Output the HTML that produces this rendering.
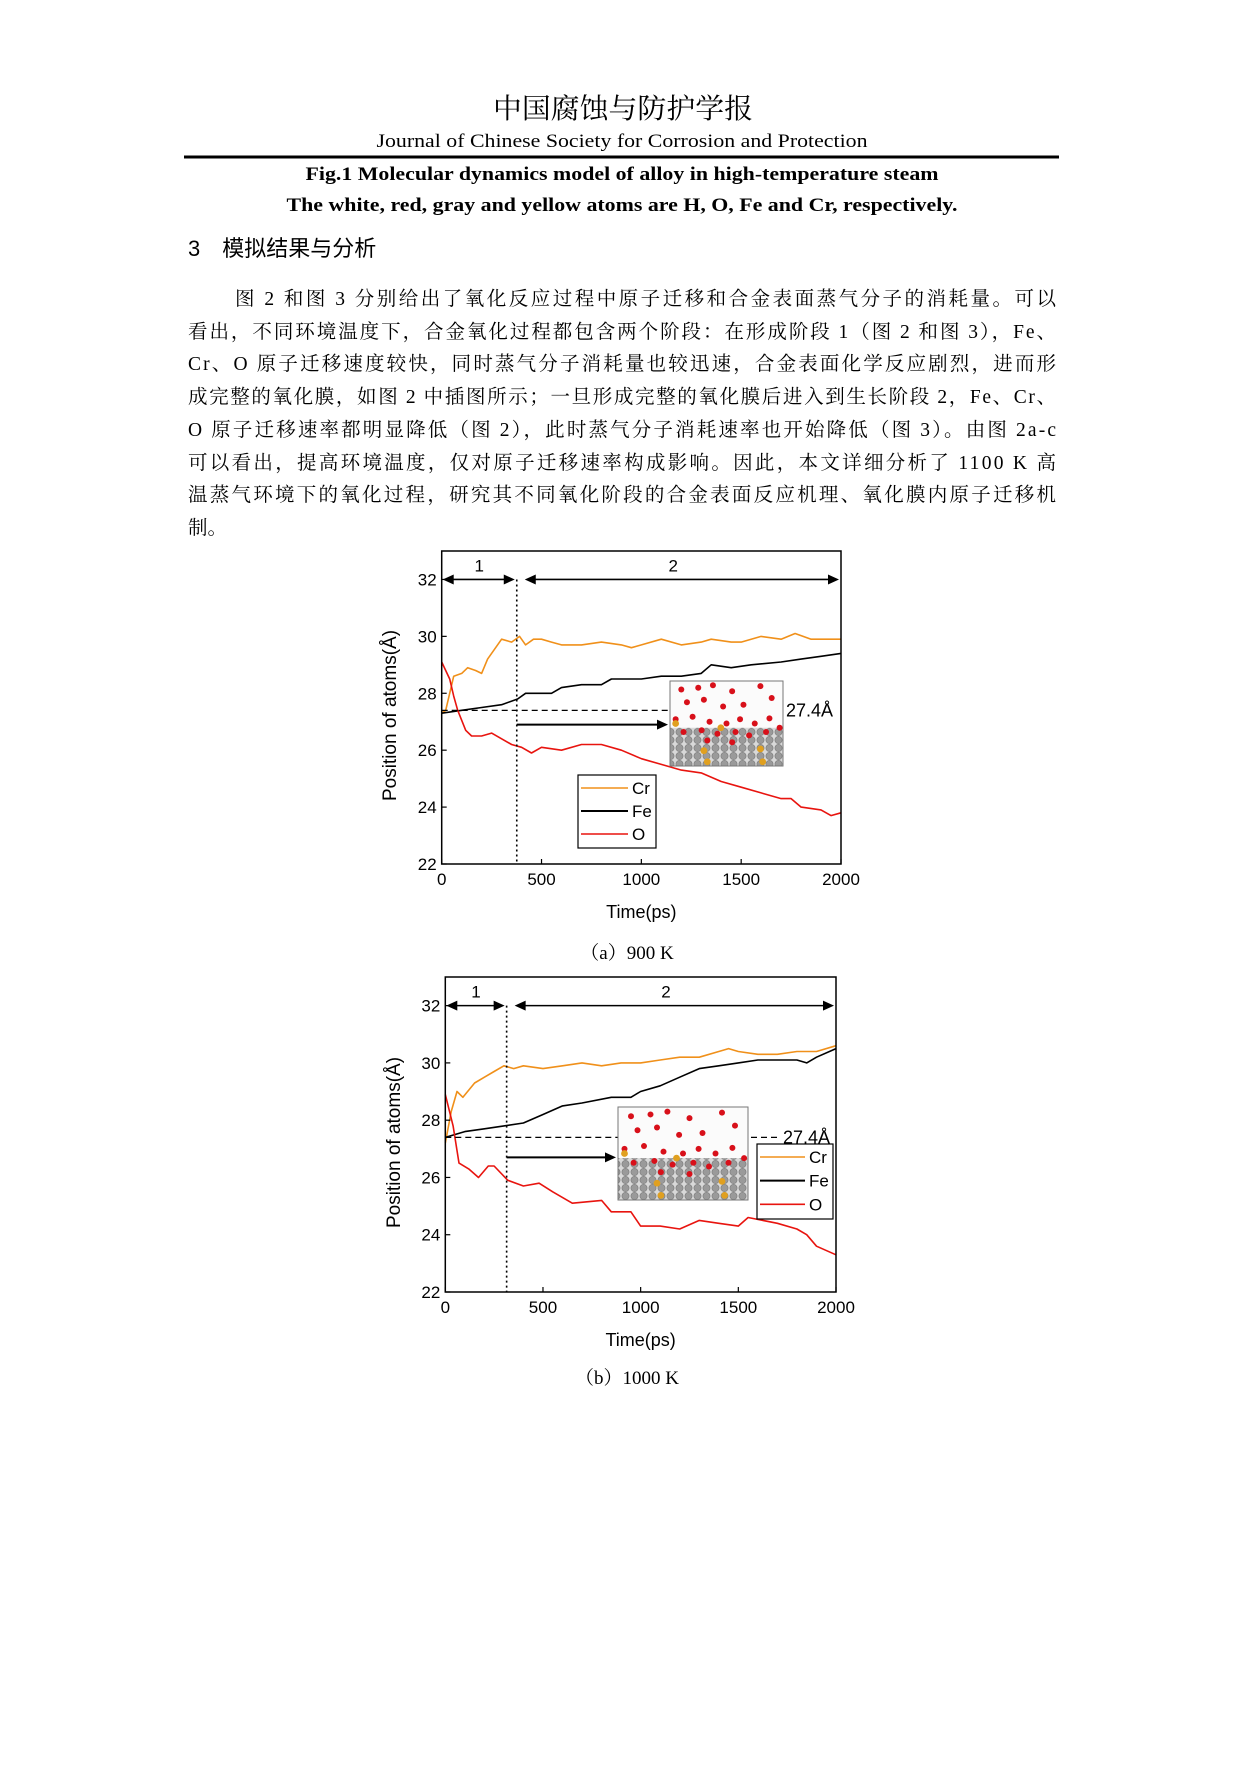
<!DOCTYPE html>
<html><head><meta charset="utf-8"><style>
html,body{margin:0;padding:0;background:#fff;}
svg{display:block;}
.sr{font-family:"Liberation Serif","Noto Serif CJK SC",serif;}
.ss{font-family:"Liberation Sans","Noto Sans CJK SC",sans-serif;}
</style></head><body>
<svg id="page" width="1241" height="1766" viewBox="0 0 1241 1766" xmlns="http://www.w3.org/2000/svg">
<rect width="1241" height="1766" fill="#fff"/>
<g>
<text class="sr" x="623" y="118" font-size="28" text-anchor="middle" textLength="260" lengthAdjust="spacingAndGlyphs">中国腐蚀与防护学报</text>
<text class="sr" x="622" y="147" font-size="19" text-anchor="middle" textLength="491" lengthAdjust="spacingAndGlyphs">Journal of Chinese Society for Corrosion and Protection</text>
<line x1="184" y1="157" x2="1059" y2="157" stroke="#000" stroke-width="3"/>
</g>
<text class="sr" x="622" y="180" font-size="19" font-weight="bold" text-anchor="middle" textLength="633" lengthAdjust="spacingAndGlyphs">Fig.1 Molecular dynamics model of alloy in high-temperature steam</text>
<text class="sr" x="622" y="211" font-size="19" font-weight="bold" text-anchor="middle" textLength="671" lengthAdjust="spacingAndGlyphs">The white, red, gray and yellow atoms are H, O, Fe and Cr, respectively.</text>
<text class="ss" x="188" y="256" font-size="22">3<tspan dx="22">模拟结果与分析</tspan></text>
<g class="sr" font-size="19.5">
<text x="235" y="305" textLength="821" lengthAdjust="spacing">图 2 和图 3 分别给出了氧化反应过程中原子迁移和合金表面蒸气分子的消耗量。可以</text>
<text x="188" y="338" textLength="868" lengthAdjust="spacing">看出，不同环境温度下，合金氧化过程都包含两个阶段：在形成阶段 1（图 2 和图 3），Fe、</text>
<text x="188" y="370" textLength="868" lengthAdjust="spacing">Cr、O 原子迁移速度较快，同时蒸气分子消耗量也较迅速，合金表面化学反应剧烈，进而形</text>
<text x="188" y="403" textLength="868" lengthAdjust="spacing">成完整的氧化膜，如图 2 中插图所示；一旦形成完整的氧化膜后进入到生长阶段 2，Fe、Cr、</text>
<text x="188" y="436" textLength="868" lengthAdjust="spacing">O 原子迁移速率都明显降低（图 2），此时蒸气分子消耗速率也开始降低（图 3）。由图 2a-c</text>
<text x="188" y="469" textLength="868" lengthAdjust="spacing">可以看出，提高环境温度，仅对原子迁移速率构成影响。因此，本文详细分析了 1100 K 高</text>
<text x="188" y="501" textLength="868" lengthAdjust="spacing">温蒸气环境下的氧化过程，研究其不同氧化阶段的合金表面反应机理、氧化膜内原子迁移机</text>
<text x="188" y="534">制。</text>
</g>
<defs>
<pattern id="atoms" x="0" y="0" width="9" height="8" patternUnits="userSpaceOnUse">
<rect width="9" height="8" fill="#d8d8d8"/>
<circle cx="4.5" cy="4" r="3.6" fill="#9a9a9a" stroke="#777" stroke-width="0.6"/>
</pattern>
</defs>
<g id="chartA"></g>
<g id="chartB"></g>
<text class="sr" x="627" y="959" font-size="19" text-anchor="middle">（a）900 K</text>
<text class="sr" x="627" y="1384" font-size="19" text-anchor="middle">（b）1000 K</text>
</svg>
<script>
// ---- Chart A data (900 K) ----
const aCrT = [0,20,40,60,100,130,170,200,230,260,300,350,390,420,460,500,550,600,700,800,900,950,1000,1100,1200,1300,1350,1450,1500,1600,1700,1770,1850,1950,2000];
const aCrV = [27.3,27.4,28.0,28.6,28.7,28.9,28.8,28.7,29.2,29.5,29.9,29.8,30.0,29.7,29.9,29.9,29.8,29.7,29.7,29.8,29.7,29.6,29.7,29.9,29.7,29.8,29.9,29.8,29.8,30.0,29.9,30.1,29.9,29.9,29.9];
const aFeT = [0,100,200,300,380,420,500,550,600,700,800,850,1000,1100,1200,1300,1350,1450,1550,1700,1800,1900,2000];
const aFeV = [27.3,27.4,27.5,27.6,27.8,28.0,28.0,28.0,28.2,28.3,28.3,28.5,28.5,28.6,28.6,28.7,29.0,28.9,29.0,29.1,29.2,29.3,29.4];
const aOT = [0,40,60,80,120,150,200,250,300,350,400,450,500,600,700,800,900,1000,1100,1200,1300,1400,1500,1600,1700,1750,1800,1900,1950,2000];
const aOV = [29.1,28.5,27.9,27.4,26.7,26.5,26.5,26.6,26.4,26.2,26.1,25.9,26.1,26.0,26.2,26.2,26.0,25.7,25.5,25.3,25.2,24.9,24.7,24.5,24.3,24.3,24.0,23.9,23.7,23.8];
// ---- Chart B data (1000 K) ----
const bCrT = [0,30,60,90,150,200,250,300,350,400,500,600,700,800,900,1000,1100,1200,1300,1400,1450,1500,1600,1700,1800,1900,2000];
const bCrV = [27.2,28.3,29.0,28.8,29.3,29.5,29.7,29.9,29.8,29.9,29.8,29.9,30.0,29.9,30.0,30.0,30.1,30.2,30.2,30.4,30.5,30.4,30.3,30.3,30.4,30.4,30.6];
const bFeT = [0,100,200,300,400,500,600,700,850,950,1000,1100,1200,1300,1400,1500,1600,1700,1800,1850,1900,2000];
const bFeV = [27.4,27.6,27.7,27.8,27.9,28.2,28.5,28.6,28.8,28.8,29.0,29.2,29.5,29.8,29.9,30.0,30.1,30.1,30.1,30.0,30.2,30.5];
const bOT = [0,40,70,120,170,220,250,320,400,480,550,650,800,850,950,1000,1100,1200,1300,1400,1500,1550,1700,1800,1850,1900,2000];
const bOV = [28.9,27.8,26.5,26.3,26.0,26.4,26.4,25.9,25.7,25.8,25.5,25.1,25.2,24.8,24.8,24.3,24.3,24.2,24.5,24.4,24.3,24.6,24.4,24.2,24.0,23.6,23.3];
const xTicks = [0,500,1000,1500,2000];
const yTicks = [22,24,26,28,30,32];
const seriesNames = ["Cr","Fe","O"];
const seriesColors = ["#f0901a","#000","#e8140f"];

const NS="http://www.w3.org/2000/svg";
function mk(p,tag,at,txt){const e=document.createElementNS(NS,tag);for(const k in at)e.setAttribute(k,at[k]);if(txt!==undefined)e.textContent=txt;p.appendChild(e);return e;}

function drawChart(g,cfg){
  const L=cfg.left,R=cfg.right,T=cfg.top,B=cfg.bottom;
  const xs=v=>L+(v-0)/2000*(R-L);
  const ys=v=>B-(v-22)/11*(B-T);
  const ff='"Liberation Sans",sans-serif';
  const data=cfg.series;
  data.forEach((s,i)=>{
    const d=s.t.map((t,j)=>(j?'L':'M')+xs(t).toFixed(1)+','+ys(s.v[j]).toFixed(1)).join('');
    const p=mk(g,'path',{d:d,fill:'none',stroke:seriesColors[i],'stroke-width':1.6,'stroke-linejoin':'round'});
    
    
  });
  const dl=mk(g,'line',{x1:L,x2:cfg.insetX,y1:ys(27.4),y2:ys(27.4),stroke:'#000','stroke-width':1.3,'stroke-dasharray':'6,4'});
  
  
  if(cfg.dashAfter){
    const d2=mk(g,'line',{x1:cfg.insetX+cfg.insetW+3,x2:cfg.labX-2,y1:ys(27.4),y2:ys(27.4),stroke:'#000','stroke-width':1.3,'stroke-dasharray':'6,4'});
    
    
  }
  const dv=mk(g,'line',{x1:xs(cfg.stage),x2:xs(cfg.stage),y1:ys(32),y2:B,stroke:'#000','stroke-width':1.6,'stroke-dasharray':'2,3'});
  
  
  const ay=ys(32);
  function arrow(x1,x2,name){
    const a=mk(g,'g',{});
    
    
    mk(a,'line',{x1:x1+6,x2:x2-6,y1:ay,y2:ay,stroke:'#000','stroke-width':1.6});
    mk(a,'path',{d:`M${x1},${ay}l11,-5v10z M${x2},${ay}l-11,-5v10z`,fill:'#000'});
  }
  arrow(L+1,xs(cfg.stage)-2,'stage-1-arrow');
  arrow(xs(cfg.stage)+8,R-2,'stage-2-arrow');
  const s1=mk(g,'text',{x:xs(cfg.stage/2),y:ay-8,'font-size':17,'font-family':ff,'text-anchor':'middle'},'1');
  
  
  const s2=mk(g,'text',{x:xs(cfg.stage2x),y:ay-8,'font-size':17,'font-family':ff,'text-anchor':'middle'},'2');
  
  
  const ig=mk(g,'g',{});
  
  
  const iw=cfg.insetW,ih=cfg.insetH,ix=cfg.insetX,iy=cfg.insetY;
  mk(ig,'rect',{x:ix,y:iy,width:iw,height:ih,fill:'#fbfbfb'});
  mk(ig,'rect',{x:ix,y:iy+ih*0.55,width:iw,height:ih*0.45,fill:'url(#atoms)'});
  const reds=[[.1,.1],[.25,.08],[.38,.05],[.55,.12],[.8,.06],[.15,.25],[.3,.22],[.47,.3],[.65,.28],[.9,.2],[.05,.45],[.2,.42],[.35,.48],[.5,.5],[.62,.45],[.75,.5],[.88,.44],[.12,.6],[.28,.58],[.42,.62],[.58,.6],[.7,.64],[.85,.6],[.97,.55],[.33,.7],[.55,.72]];
  reds.forEach(r=>mk(ig,'circle',{cx:ix+r[0]*iw,cy:iy+r[1]*ih,r:3,fill:'#d8101a'}));
  [[.05,.5],[.45,.55],[.3,.82],[.8,.8],[.33,.95],[.82,.95]].forEach(r=>mk(ig,'circle',{cx:ix+r[0]*iw,cy:iy+r[1]*ih,r:3.4,fill:'#e0a020'}));
  mk(ig,'rect',{x:ix,y:iy,width:iw,height:ih,fill:'none',stroke:'#777','stroke-width':1});
  const sa=mk(g,'g',{});
  
  
  mk(sa,'line',{x1:xs(cfg.stage),x2:ix-10,y1:ys(cfg.arrowY),y2:ys(cfg.arrowY),stroke:'#000','stroke-width':2});
  mk(sa,'path',{d:`M${ix-2},${ys(cfg.arrowY)}l-11,-5v10z`,fill:'#000'});
  const lab=mk(g,'text',{x:cfg.labX,y:ys(27.4)+6,'font-size':18,'font-family':ff},'27.4Å');
  
  
  const fr=mk(g,'rect',{x:L,y:T,width:R-L,height:B-T,fill:'none',stroke:'#000','stroke-width':1.5});
  
  
  xTicks.forEach(t=>{
    mk(g,'line',{x1:xs(t),x2:xs(t),y1:B,y2:B-5,stroke:'#000','stroke-width':1.2});
    const tx=mk(g,'text',{x:xs(t),y:B+21,'font-size':17,'font-family':ff,'text-anchor':'middle'},String(t));
    
    
  });
  yTicks.forEach(t=>{
    mk(g,'line',{x1:L,x2:L+5,y1:ys(t),y2:ys(t),stroke:'#000','stroke-width':1.2});
    const tx=mk(g,'text',{x:L-5,y:ys(t)+6,'font-size':17,'font-family':ff,'text-anchor':'end'},String(t));
    
    
  });
  const xt=mk(g,'text',{x:(L+R)/2,y:B+54,'font-size':18,'font-family':ff,'text-anchor':'middle'},'Time(ps)');
  
  
  const yt=mk(g,'text',{x:0,y:0,'font-size':19,'font-family':ff,'text-anchor':'middle',transform:`translate(${cfg.yTitleX},${(T+B)/2+8}) rotate(-90)`},'Position of atoms(Å)');
  
  
  const lg=mk(g,'g',{});
  
  
  mk(lg,'rect',{x:cfg.legX,y:cfg.legY,width:cfg.legW,height:cfg.legH,fill:'#fff',stroke:'#000','stroke-width':1.2});
  seriesNames.forEach((n,i)=>{
    const yy=cfg.legY+13+i*(cfg.legH-4)/3;
    const e=mk(lg,'g',{});
    
    
    mk(e,'line',{x1:cfg.legX+3,x2:cfg.legX+cfg.legW-28,y1:yy,y2:yy,stroke:seriesColors[i],'stroke-width':i==1?2:1.6});
    mk(e,'text',{x:cfg.legX+cfg.legW-24,y:yy+6,'font-size':17,'font-family':ff},n);
  });
}
drawChart(document.getElementById('chartA'),{left:441.7,right:841,top:551,bottom:864,stage:376,stage2x:1160,
  series:[{t:aCrT,v:aCrV},{t:aFeT,v:aFeV},{t:aOT,v:aOV}],
  insetX:670,insetY:681,insetW:113,insetH:85,arrowY:26.9,labX:786,yTitleX:396,dashAfter:false,
  legX:578,legY:775,legW:78,legH:73});
drawChart(document.getElementById('chartB'),{left:445.3,right:836,top:977,bottom:1292,stage:314,stage2x:1130,
  series:[{t:bCrT,v:bCrV},{t:bFeT,v:bFeV},{t:bOT,v:bOV}],
  insetX:618,insetY:1107,insetW:130,insetH:93,arrowY:26.7,labX:783,yTitleX:400,dashAfter:true,
  legX:757,legY:1144,legW:76,legH:75});
</script>
</body></html>
